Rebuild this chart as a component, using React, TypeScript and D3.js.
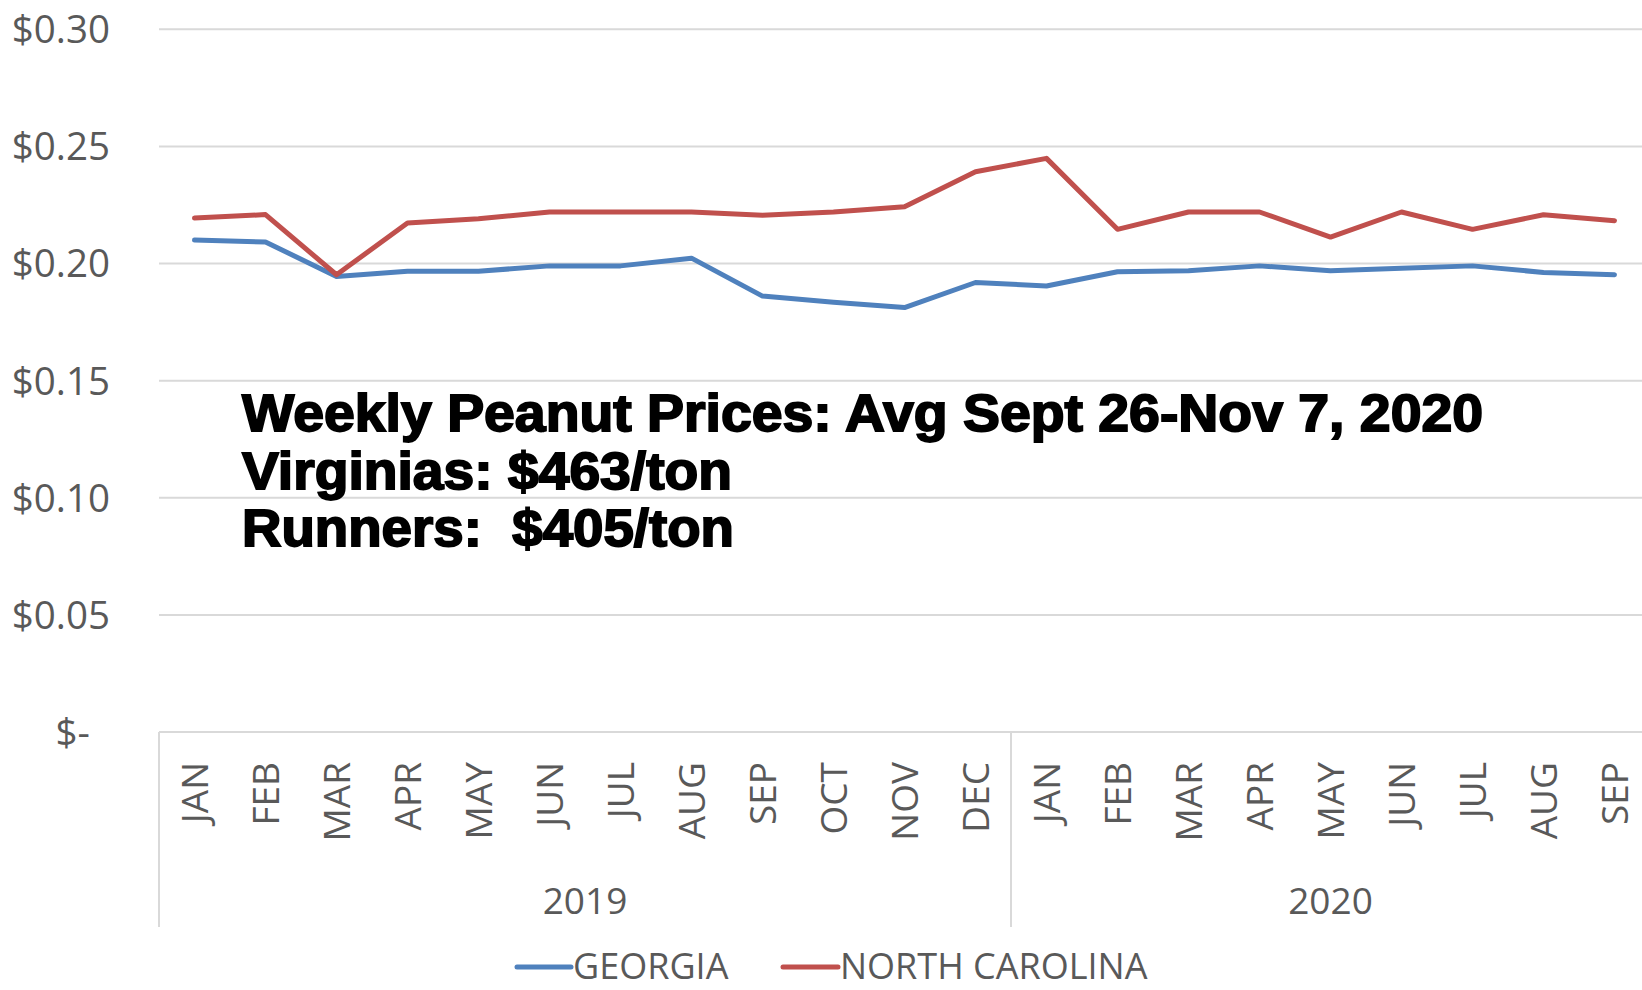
import React from "react";
import * as d3 from "d3";

const months = ["JAN","FEB","MAR","APR","MAY","JUN","JUL","AUG","SEP","OCT","NOV","DEC","JAN","FEB","MAR","APR","MAY","JUN","JUL","AUG","SEP"];
const years = [
  { label: "2019", start: 0, count: 12 },
  { label: "2020", start: 12, count: 9 },
];
const georgia = [0.2100,0.2092,0.1945,0.1967,0.1967,0.1990,0.1990,0.2023,0.1861,0.1835,0.1812,0.1919,0.1904,0.1965,0.1969,0.1990,0.1969,0.1980,0.1990,0.1962,0.1952];
const northCarolina = [0.2194,0.2209,0.1952,0.2173,0.2191,0.2220,0.2220,0.2220,0.2206,0.2220,0.2242,0.2392,0.2449,0.2146,0.2220,0.2220,0.2113,0.2220,0.2146,0.2208,0.2183];
const yTicks = [0, 0.05, 0.1, 0.15, 0.2, 0.25, 0.3];
const seriesNames = ["GEORGIA", "NORTH CAROLINA"];
const annotation = [
  "Weekly Peanut Prices: Avg Sept 26-Nov 7, 2020",
  "Virginias: $463/ton",
  "Runners:  $405/ton",
];

const W = 1642, H = 990;
const left = 159, right = 1650, top = 29.3, bottom = 732;
const BLUE = "#4F81BD", RED = "#C0504D", GRID = "#D9D9D9", TXT = "#595959";
const FONT = "'Open Sans', sans-serif";

export default function App() {
  const x = d3.scaleBand<number>().domain(d3.range(months.length)).range([left, right]).paddingInner(0).paddingOuter(0);
  const y = d3.scaleLinear().domain([0, 0.3]).range([bottom, top]);
  const cx = (i: number) => (x(i) as number) + x.bandwidth() / 2;
  const line = d3.line<number>().x((_, i) => cx(i)).y((d) => y(d));
  const fmt = (v: number) => (v === 0 ? "$-" : "$" + d3.format(".2f")(v));

  return (
    <svg width={W} height={H} style={{ position: "absolute", left: 0, top: 0, background: "#fff" }}>
      {yTicks.map((t) => (
        <g key={t}>
          <line x1={left} x2={W} y1={y(t)} y2={y(t)} stroke={GRID} strokeWidth={2} />
          <text x={t === 0 ? 90 : 110} y={y(t)} dy="0.36em" textAnchor="end" fontFamily={FONT} fontSize={38.5} fill={TXT}>
            {fmt(t)}
          </text>
        </g>
      ))}
      {[0, 12].map((i) => (
        <line key={i} x1={x(i) as number} x2={x(i) as number} y1={bottom} y2={927} stroke={GRID} strokeWidth={2} />
      ))}
      {months.map((m, i) => (
        <text key={i} transform={`translate(${cx(i) + 13},762) rotate(-90)`} textAnchor="end" fontFamily={FONT} fontSize={37} fill={TXT}>
          {m}
        </text>
      ))}
      {years.map((yr) => {
        const x0 = x(yr.start) as number;
        const x1 = yr.start + yr.count >= months.length ? right : (x(yr.start + yr.count) as number);
        return (
          <text key={yr.label} x={(x0 + x1) / 2} y={914} textAnchor="middle" fontFamily={FONT} fontSize={37} fill={TXT}>
            {yr.label}
          </text>
        );
      })}
      <path d={line(georgia) || ""} fill="none" stroke={BLUE} strokeWidth={5} strokeLinejoin="round" strokeLinecap="round" />
      <path d={line(northCarolina) || ""} fill="none" stroke={RED} strokeWidth={5} strokeLinejoin="round" strokeLinecap="round" />
      {annotation.map((a, i) => (
        <text key={i} x={242} y={431 + i * 57.5} fontFamily="'Liberation Sans', Arial, sans-serif" fontWeight="bold" fontSize={51}
          fill="#000" stroke="#000" strokeWidth={1.8} textLength={[1241, 490, 492][i]} lengthAdjust="spacingAndGlyphs" style={{ whiteSpace: "pre" }}>
          {a}
        </text>
      ))}
      <line x1={517} x2={571} y1={967} y2={967} stroke={BLUE} strokeWidth={5} strokeLinecap="round" />
      <text x={573} y={979} fontFamily={FONT} fontSize={36} fill={TXT}>{seriesNames[0]}</text>
      <line x1={783} x2={838} y1={967} y2={967} stroke={RED} strokeWidth={5} strokeLinecap="round" />
      <text x={840} y={979} fontFamily={FONT} fontSize={36} fill={TXT}>{seriesNames[1]}</text>
    </svg>
  );
}
